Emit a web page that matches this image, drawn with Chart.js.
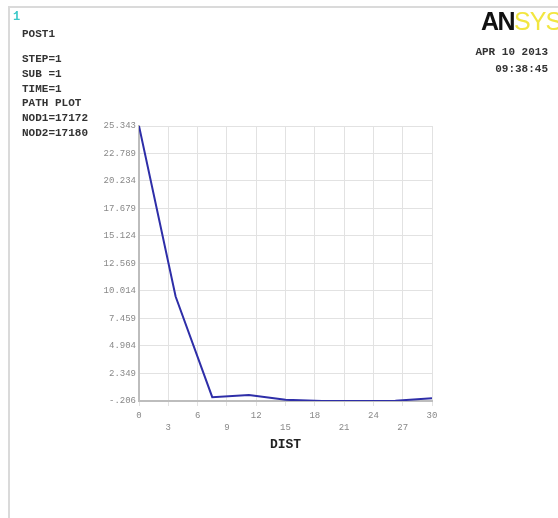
<!DOCTYPE html>
<html>
<head>
<meta charset="utf-8">
<script src="https://cdn.jsdelivr.net/npm/chart.js@4.4.1/dist/chart.umd.min.js"></script>
<style>
    html, body { margin: 0; padding: 0; background: #fff; }
    #wrap { position: relative; width: 558px; height: 518px; overflow: hidden; }
    #frame { position: absolute; left: 8px; top: 6px; right: -4px; bottom: -4px;
        border-top: 2px solid #dadada; border-left: 2px solid #dadada; }
    #box { position: absolute; left: 0; top: 0; width: 558px; height: 518px; }
    .txt { position: absolute; font-family: "Liberation Mono", monospace; font-weight: bold;
        font-size: 11px; line-height: 14.8px; color: #333; white-space: pre; }
    #winNum { position: absolute; left: 13px; top: 10px; font: bold 12px "Liberation Mono", monospace; color: #3cc8c8; }
    #logo { position: absolute; left: 481px; top: 6px; font-size: 25px; line-height: 30px; white-space: nowrap; }
    #logo .an { font-family: "Liberation Sans", sans-serif; font-weight: bold; color: #111; letter-spacing: -1.5px; }
    #logo .sys { font-family: "Liberation Sans", sans-serif; color: #f2e640; letter-spacing: -1px; }
</style>
</head>
<body>
<div id="wrap">
    <div id="frame"></div>
    <div id="box"><canvas id="pathChart"></canvas></div>
    <div id="winNum">1</div>
    <div class="txt" id="title" style="left:22px; top:27px;"></div>
    <div class="txt" id="info" style="left:22px; top:52px;"></div>
    <div class="txt" id="stamp" style="right:10px; top:44px; text-align:right; line-height:17px;"></div>
    <div id="logo"><span class="an">AN</span><span class="sys">SYS</span></div>
</div>
<script>
// path plot data
const distValues = [0, 3.75, 7.5, 11.25, 15, 18.75, 22.5, 26.25, 30];
const pathValues = [25.343, 9.5, 0.15, 0.35, -0.1, -0.2, -0.206, -0.18, 0.05];

const yTickValues = [-0.206, 2.349, 4.904, 7.459, 10.014, 12.569, 15.124, 17.679, 20.234, 22.789, 25.343];
const yTickLabels = ['-.206', '2.349', '4.904', '7.459', '10.014', '12.569', '15.124', '17.679', '20.234', '22.789', '25.343'];
const xTickValues = [0, 3, 6, 9, 12, 15, 18, 21, 24, 27, 30];

const titleLine = 'POST1';
const infoLines = ['STEP=1', 'SUB =1', 'TIME=1', 'PATH PLOT', 'NOD1=17172', 'NOD2=17180'];
const stampLines = ['APR 10 2013', '09:38:45'];
const xTitle = 'DIST';

document.getElementById('title').textContent = titleLine;
document.getElementById('info').textContent = infoLines.join('\n');
document.getElementById('stamp').textContent = stampLines.join('\n');

const monoFont = '"Liberation Mono", monospace';

const canvas = document.querySelector('#pathChart');
const ctx = canvas.getContext('2d');

new Chart(ctx, {
    type: 'line',
    data: {
        datasets: [{
            label: 'path',
            data: distValues.map((d, i) => ({ x: d, y: pathValues[i] })),
            borderColor: '#2e2ea8',
            borderWidth: 2,
            pointRadius: 0,
            tension: 0,
            fill: false
        }]
    },
    options: {
        responsive: true,
        maintainAspectRatio: false,
        animation: false,
        layout: { padding: { left: 0, top: 126, right: 126, bottom: 60 } },
        plugins: { legend: { display: false }, tooltip: { enabled: false } },
        scales: {
            x: {
                type: 'linear',
                min: 0,
                max: 30,
                afterBuildTicks: (scale) => {
                    scale.ticks = xTickValues.map(v => ({ value: v }));
                },
                afterFit: (scale) => { scale.height = 57; },
                ticks: {
                    autoSkip: false,
                    maxRotation: 0,
                    padding: 4,
                    color: '#888',
                    font: { family: monoFont, size: 9, lineHeight: 1.34 },
                    // alternate labels between two rows like the original
                    callback: (v, i) => (i % 2 === 0 ? [String(v)] : ['', String(v)])
                },
                grid: { color: '#e2e2e2', lineWidth: 1, tickLength: 5 },
                border: { color: '#bdbdbd', width: 2 },
                title: {
                    display: true,
                    text: xTitle,
                    color: '#222',
                    padding: { top: 4, bottom: 5 },
                    font: { family: monoFont, size: 13, weight: 'bold' }
                }
            },
            y: {
                type: 'linear',
                min: yTickValues[0],
                max: yTickValues[yTickValues.length - 1],
                afterBuildTicks: (scale) => {
                    scale.ticks = yTickValues.map(v => ({ value: v }));
                },
                afterFit: (scale) => { scale.width = 139; },
                ticks: {
                    padding: 3,
                    color: '#888',
                    font: { family: monoFont, size: 9 },
                    callback: (v, i) => yTickLabels[i]
                },
                grid: { color: '#e2e2e2', lineWidth: 1, drawTicks: false },
                border: { color: '#bdbdbd', width: 2 }
            }
        }
    }
});
</script>
</body>
</html>
